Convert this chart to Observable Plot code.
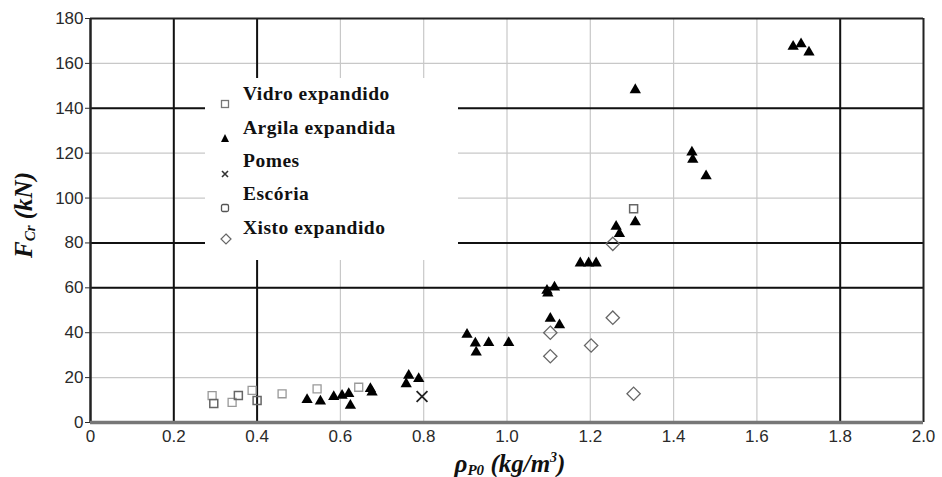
<!DOCTYPE html>
<html>
<head>
<meta charset="utf-8">
<script src="https://cdn.jsdelivr.net/npm/d3@7"></script>
<script src="https://cdn.jsdelivr.net/npm/@observablehq/plot@0.6"></script>
<style>
  html, body { margin: 0; padding: 0; background: #fff; }
  #wrap { position: relative; width: 942px; height: 477px; overflow: hidden; }
  #legend { position: absolute; left: 205px; top: 78px; width: 253px; height: 182px; background: #fff; }
  .item { position: absolute; left: 38px; font-family: "Liberation Serif", "Times New Roman", serif; font-weight: bold; font-size: 19.5px; letter-spacing: 0.5px; color: #111; white-space: nowrap; line-height: 20px; }
  .sym { position: absolute; left: 15px; }
  .lab { position: absolute; font-family: "Liberation Serif", "Times New Roman", serif; font-weight: bold; font-style: italic; font-size: 25px; line-height: 28px; color: #111; white-space: nowrap; }
  .lab sub { font-size: 15px; vertical-align: -3px; }
  .lab sup { font-size: 14px; vertical-align: 10px; }
</style>
</head>
<body>
<div id="wrap"></div>
<script>
// ---- data ----
const xTicks = [0, 0.2, 0.4, 0.6, 0.8, 1.0, 1.2, 1.4, 1.6, 1.8, 2.0];
const yTicks = [0, 20, 40, 60, 80, 100, 120, 140, 160, 180];
const heavyX = [0.2, 0.4, 1.8];
const heavyY = [60, 80, 140];

const vidroX = [0.292, 0.34, 0.388, 0.46, 0.544, 0.644];
const vidroY = [12.0, 9.0, 14.3, 12.8, 15.0, 15.7];

const argilaX = [0.52, 0.552, 0.584, 0.604, 0.62, 0.624, 0.672, 0.676, 0.758, 0.764, 0.788,
                 0.904, 0.924, 0.926, 0.956, 1.004, 1.096, 1.098, 1.114, 1.104, 1.126,
                 1.176, 1.196, 1.214, 1.262, 1.27, 1.308, 1.308, 1.444, 1.446, 1.478,
                 1.687, 1.706, 1.725];
const argilaY = [10.1, 9.5, 11.5, 12.0, 12.8, 7.6, 15.0, 13.5, 17.2, 20.9, 19.5,
                 39.2, 35.3, 31.3, 35.5, 35.5, 58.8, 57.6, 60.3, 46.3, 43.4,
                 71.0, 71.0, 71.0, 87.3, 84.1, 89.3, 148.2, 120.4, 117.2, 109.8,
                 167.5, 168.6, 165.0];

const pomesX = [0.796];
const pomesY = [11.6];

const escoriaX = [0.296, 0.355, 0.40, 1.304];
const escoriaY = [8.5, 12.0, 9.8, 95.2];

const xistoX = [1.104, 1.104, 1.202, 1.254, 1.254, 1.304];
const xistoY = [40.0, 29.5, 34.3, 46.7, 79.6, 12.8];

const legendNames = ["Vidro expandido", "Argila expandida", "Pomes", "Escória", "Xisto expandido"];

// ---- build tables ----
const zip = (xs, ys) => xs.map((x, i) => ({x, y: ys[i]}));
const vidro = zip(vidroX, vidroY);
const argila = zip(argilaX, argilaY);
const pomes = zip(pomesX, pomesY);
const escoria = zip(escoriaX, escoriaY);
const xisto = zip(xistoX, xistoY);

const chart = Plot.plot({
  width: 942,
  height: 477,
  marginLeft: 90,
  marginRight: 19,
  marginTop: 18,
  marginBottom: 55,
  style: {fontFamily: "'Liberation Sans', Arial, sans-serif", fontSize: "17px", color: "#2a2a2a", background: "#fff"},
  x: {domain: [0, 2]},
  y: {domain: [0, 180]},
  marks: [
    Plot.ruleX(xTicks, {stroke: "#c8c8c8", strokeWidth: 1.2}),
    Plot.ruleY(yTicks, {stroke: "#c8c8c8", strokeWidth: 1.2}),
    Plot.ruleX(heavyX, {stroke: "#111", strokeWidth: 2}),
    Plot.ruleY(heavyY, {stroke: "#111", strokeWidth: 2}),
    Plot.ruleY([180], {stroke: "#222", strokeWidth: 2}),
    Plot.ruleX([2], {stroke: "#222", strokeWidth: 2}),
    Plot.ruleX([0], {stroke: "#222", strokeWidth: 2.5}),
    Plot.ruleY([0], {stroke: "#777", strokeWidth: 3.5}),
    Plot.axisX({ticks: xTicks, tickSize: 0, tickPadding: 7, label: null,
      tickFormat: d => d === 0 ? "0" : d.toFixed(1)}),
    Plot.axisY({ticks: yTicks, tickSize: 5, tickPadding: 2, label: null}),
    Plot.dot(vidro, {x: "x", y: "y", symbol: "square", r: 4.5, stroke: "#999", strokeWidth: 1.3, fill: "none"}),
    Plot.dot(escoria, {x: "x", y: "y", symbol: "square", r: 4.5, stroke: "#666", strokeWidth: 1.5, fill: "none"}),
    Plot.dot(xisto, {x: "x", y: "y", symbol: "diamond2", r: 6, stroke: "#666", strokeWidth: 1.3, fill: "none"}),
    Plot.dot(argila, {x: "x", y: "y", symbol: "triangle", r: 4.2, fill: "#000", stroke: "none"}),
    Plot.dot(pomes, {x: "x", y: "y", symbol: "times", r: 5, stroke: "#222", strokeWidth: 1.8})
  ]
});

const wrap = document.getElementById("wrap");
wrap.appendChild(chart);

// legend box (white panel over the grid, as in the reference)
const legend = document.createElement("div");
legend.id = "legend";
const symSvg = [
  '<svg width="10" height="10"><rect x="1.5" y="1.5" width="7" height="7" fill="none" stroke="#777" stroke-width="1.3"/></svg>',
  '<svg width="10" height="10"><path d="M5 1 L9 9 L1 9 Z" fill="#000"/></svg>',
  '<svg width="10" height="10"><path d="M2 2 L8 8 M8 2 L2 8" stroke="#333" stroke-width="1.6"/></svg>',
  '<svg width="10" height="10"><rect x="1.5" y="1.5" width="7" height="7" rx="1.5" fill="none" stroke="#555" stroke-width="1.3"/></svg>',
  '<svg width="12" height="12"><path d="M6 1 L11 6 L6 11 L1 6 Z" fill="none" stroke="#666" stroke-width="1.2"/></svg>'
];
const rowTop = [6, 40, 73, 106, 140];
const symTop = [17, 51, 87, 121, 153];
legendNames.forEach((name, i) => {
  const t = document.createElement("div");
  t.className = "item";
  t.style.top = rowTop[i] + "px";
  t.textContent = name;
  legend.appendChild(t);
  const s = document.createElement("div");
  s.className = "sym";
  s.style.top = symTop[i] + "px";
  s.innerHTML = symSvg[i];
  legend.appendChild(s);
});
wrap.appendChild(legend);

// axis titles
const yl = document.createElement("div");
yl.className = "lab";
yl.innerHTML = "F<sub>Cr</sub> (kN)";
yl.style.left = "27px";
yl.style.top = "215px";
yl.style.transform = "translate(-50%, -50%) rotate(-90deg)";
wrap.appendChild(yl);

const xl = document.createElement("div");
xl.className = "lab";
xl.innerHTML = "ρ<sub>P0</sub> (kg/m<sup>3</sup>)";
xl.style.left = "510px";
xl.style.top = "464px";
xl.style.transform = "translate(-50%, -50%)";
wrap.appendChild(xl);
</script>
</body>
</html>
